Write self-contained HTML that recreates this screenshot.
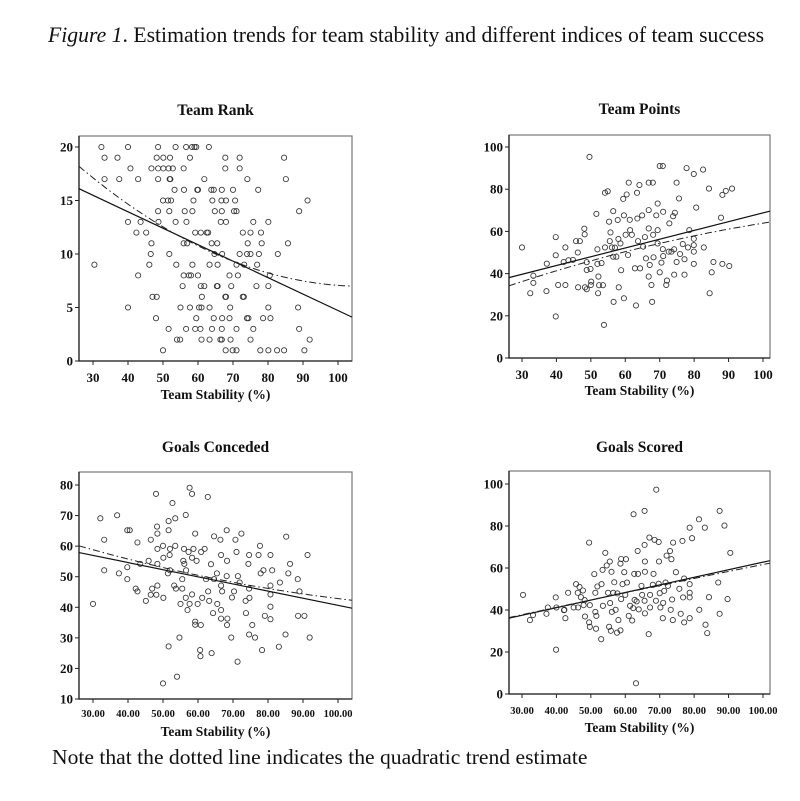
<!DOCTYPE html>
<html><head><meta charset="utf-8"><style>
body{margin:0;background:#fff;}
svg{display:block;font-family:"Liberation Serif",serif;}
</style></head><body>
<svg id="fig" width="800" height="801" viewBox="0 0 800 801">
<text x="48" y="42" font-size="21.7" fill="#111"><tspan font-style="italic">Figure 1</tspan>. Estimation trends for team stability and different indices of team success</text>
<text x="52" y="764" font-size="21.6" fill="#111">Note that the dotted line indicates the quadratic trend estimate</text>
</svg>
<script>
// ---- data ----
const rankX=[32.4,40,48.6,53.6,56.6,58.3,59,59.5,63.1, 33.3,37,48.2,50.1,52,57.7,67.8,71.9,84.6, 40.7,46.7,48.6,50.1,51.6,52.8,55.9,67.8,71.9, 33.3,37.5,42.9,48.6,51.9,52.1,61.8,74.1,85.1, 53.3,56,59.8,60,63.8,64.5,66.8,70,77.2, 50,51.4,52.3,58.7,64.1,66.7,68,70.6,91.3, 48.6,51.8,56.2,58.4,64.8,66.8,70.3,71,88.9, 40,43.6,48.7,53.6,56.7,66.5,68,75.8,80.1, 42.4,45.2,59.2,60.8,62.5,62.9,72.8,75,78, 46.7,55.9,56.9,63.9,65.5,74.2,78.2,85.7, 46.5,51.8,64.7,66.9,71.9,74,75,77.4,82.8, 30.4,46.1,53.8,58.4,63.3,65.6,71,73.2,76.9, 42.9,55.9,57.4,58,60,69,71.4,80.5, 55.6,60.8,61.8,65.4,65.6,69.5,76.7,80.1, 47,48.2,61.1,67.8,68,72.8,73.1, 40,55,57.7,60.3,61,63.3,69.2,80.1,88.6, 48,59.5,64.5,66.9,69,74,74.4,78.6,80.7, 51.6,56.6,59.2,60.7,64,66.8,71,75.8,88.9, 54,54.9,61,63.3,66.4,66.8,69.3,75,91.9, 50,67.9,69.9,71,77.8,80.1,82.6,84.6,90.4];
const rankY=[20,20,20,20,20,20,20,20,20, 19,19,19,19,19,19,19,19,19, 18,18,18,18,18,18,18,18,18, 17,17,17,17,17,17,17,17,17, 16,16,16,16,16,16,16,16,16, 15,15,15,15,15,15,15,15,15, 14,14,14,14,14,14,14,14,14, 13,13,13,13,13,13,13,13,13, 12,12,12,12,12,12,12,12,12, 11,11,11,11,11,11,11,11, 10,10,10,10,10,10,10,10,10, 9,9,9,9,9,9,9,9,9, 8,8,8,8,8,8,8,8, 7,7,7,7,7,7,7,7, 6,6,6,6,6,6,6, 5,5,5,5,5,5,5,5,5, 4,4,4,4,4,4,4,4,4, 3,3,3,3,3,3,3,3,3, 2,2,2,2,2,2,2,2,2, 1,1,1,1,1,1,1,1,1];
const pointsX=[49.6,30,32.4,33.3,33.3,37.2,37.1,39.8,39.8,39.8,40.5,42.6,42.6,42.1,43.5,44.8,45.7,46.2,46.8,46.3,48.1,48.2,48.3,48.8,48.8,48.8,49.9,50.1,50,51.6,51.9,51.9,52.2,52.1,52.4,53.1,53.5,53.8,54.1,54.9,54.1,55.3,55.5,55.7,56.1,56.5,56.6,56.5,57,57.4,57.8,58,58.1,58.6,58.8,59.4,59.6,59.6,60.1,60.4,60.8,61,61.3,61.4,61.9,62.8,63.1,63.4,63.5,64.1,63.7,64.9,64.3,65.2,65.7,66,66.8,66.8,66.8,66.8,67.1,67.6,67.8,68,68.1,68.2,69,69.4,69.4,69.4,70,70.9,70.5,70,70.9,71,71,71.9,72.1,72.6,72.8,73.4,73.9,74.2,74.2,74.4,74.9,74.9,75.6,75.9,76.7,77.2,77.2,77.8,78.2,78.6,79.9,79.9,79.9,79.9,79.9,80.6,82.6,82.8,84.3,84.5,85.1,85.6,87.8,88.2,88.2,89.2,90.2,91];
const pointsY=[95.3,52.4,30.7,35.6,39,44.7,31.7,48.7,57.3,19.7,34.6,52.4,34.6,45.5,46.3,46.5,55.4,50,55.4,33.5,61.3,58.6,33.5,45.4,41.7,32.6,42.2,36.2,34.6,68.3,51.5,44.6,38.6,30.7,34.5,45,34.5,15.7,78.3,79,52.4,64.6,55.4,59.5,52.4,69.6,26.6,48,52.3,48,65.4,56.4,33.5,54.3,41.6,75.4,67.6,28.3,58.4,77.5,48.8,83.1,65.5,60.6,58.4,42.5,24.9,78.3,66.1,82,55.4,67.6,42.5,52.8,57.3,47.2,83.1,70.1,61.4,38.6,44.1,34.6,26.6,83.1,58.4,47.7,67.6,73.2,60.6,54.3,91,91,45.2,40.6,51.6,48.3,69.3,34.6,36.7,50.4,63.8,50.4,67.2,51.5,39.5,68.8,83.1,45.5,75.6,49.3,54,39.5,46.8,90,52.4,60.6,87.2,56.5,53.5,50.4,44.6,71.3,89.3,52.4,80.3,30.7,40.6,45.5,66.5,77.3,44.6,79.2,43.6,80.3];
const concX=[30,32.1,33.2,33.2,36.9,37.4,39.8,39.8,39.8,40.5,42.2,42.7,42.7,43.5,45.1,45.9,46.5,46.5,46.9,48,48.3,48.4,48.4,48.4,48.4,48.1,50,50.1,50.1,50,51.4,51.6,51.6,51.6,51.9,52,52,52.7,53.2,53.5,53.5,53.7,54,54.7,55,55.5,55.5,55.8,56,56.1,56.5,56.5,56.6,57,57.3,57.6,57.6,58.3,58.3,58.3,58.7,59.2,59.2,59.2,59.6,59.9,60.6,60.7,60.8,60.9,61.2,61.9,62.8,62.3,62.9,63.2,63.7,63.9,64.3,64.6,64.6,65.4,65.5,66.4,66.6,66.6,66.6,66.6,66.9,68.2,68.2,68.3,68.4,68.3,69.5,69.7,70.3,70.7,71,71.3,71.4,71.9,72.4,73.6,73.7,74.4,74.6,74.6,74.7,74.6,75.5,76.3,77.3,77.7,77.9,78.3,78.7,79.1,80.7,80.7,80.7,80.7,80.7,81.2,83.1,83.4,85,85.2,85.8,86.3,88.5,88.6,89,90.4,91.3,91.9];
const concY=[41.1,69.1,62.1,52.1,70.1,51.1,53.1,49.2,65.2,65.2,46.1,61.2,45.2,54.2,42.1,55.2,62.1,44.1,46.1,77.1,66.4,64.1,59.1,54.2,47.1,44.1,60.1,56.2,43.1,15.1,51.1,68.2,65.2,27.2,57.1,59.1,52.1,74.1,47.1,69.1,60.1,46.1,17.3,30.1,41.1,49.2,46.1,55.2,59.1,54.2,70.2,43.1,52.1,39.1,58.1,79.1,41.1,77.1,44.2,56.2,59.1,64.1,35.3,34.3,55.2,41.1,26,24,34.2,58.1,43.1,59.1,76.1,49.2,45.2,42.1,54.1,25,38.1,63.2,49.2,51.1,41.1,62.1,57.1,47.1,39.1,36.3,45.2,65.2,50.2,55.2,36.3,34.2,30.1,43.2,45.2,62.1,58.1,22.2,50.2,48.1,64.1,42.1,38.1,54.2,57.1,46.1,43.1,31.1,34.2,30.1,57.1,60.1,51.1,26,52.1,37.2,57.1,47.1,44.2,40.2,36.1,52.1,27.1,48.1,31.1,63.1,51.1,54.2,49.2,37.2,45.2,37.2,57.1,30.1];
const scoredX=[30.3,32.3,33.2,37.1,37.5,39.8,39.9,40,42.3,42.6,43.4,42.2,45,45.7,46.3,46.2,46.7,47.1,47.7,47.9,48.3,48.2,49.5,49.5,49.7,49.7,51,51.3,51.3,51.5,51.6,51.9,53,53.1,53.4,53.5,54.2,54.6,55,55.3,55.5,55.6,55.8,56,56.1,56.5,56.8,57.2,57.6,57.7,58,58.6,58.8,58.6,58.8,59.2,59.7,60,60.2,60.5,61,61.4,62,62.3,62.4,62.7,62.6,63.3,63.6,63.1,63.7,63.9,64.7,64.9,65.6,65.6,65.7,65.7,65.7,65.6,66.8,67,67.2,67.2,68,68.2,68.5,68.9,69,69.7,69.7,69.8,70,70.2,70.9,71,71.3,71.7,72,72.4,73,73.2,73.4,73.6,73.8,73.9,74.7,75.7,76.1,76.6,76.8,77.1,77.1,78.7,78.7,78.7,78.7,78.7,79.4,81.4,81.5,83.1,83.3,83.8,84.3,87,87.4,87.4,88.8,89.7,90.5];
const scoredY=[47.2,35.2,37.6,38.2,41.2,46,21.1,41.2,40.1,36.1,48.2,39.9,41.2,52.3,41.2,48.2,51,46.1,49.3,42.3,36.9,44.7,72.1,34.1,32,42.3,57.1,48.2,39.1,31.1,37.2,51.2,26.1,52.3,59.1,42,67.2,61.2,48.2,32,63.1,43.3,30.1,58.2,39.1,48.2,53.2,40.1,29.2,47.9,35.2,62.1,64.3,30.3,45.2,52.3,58,47.2,64.2,53.1,37.2,42,35,40.9,85.6,44.8,57.2,44.1,68.1,5.1,57.2,40.3,51.5,47.2,87.2,71,63.1,58.2,38.4,44.4,28.5,74.5,47.2,41.2,52,57.2,73.4,44.4,97.3,72.4,52.5,63.1,48,41.2,36.1,43.4,49.1,53.1,65.9,51.5,68.1,40.1,64.2,45,35.2,72.1,58,50.1,38.2,72.9,46,34.1,55,79.2,52.3,48.2,46,36.1,74.2,83.2,40.1,79.2,33,29,46.1,53.1,87.2,38.2,80.2,45.2,67.2];
// trend lines: linear endpoints [x0,y0,x1,y1]; quadratic anchor points
const rankLin=[26,16.1,104,4.1], rankQuadX=[26,65,104], rankQuadY=[18.2,10,7];
const pointsLin=[26.2,38.1,102,69.6], pointsQuadX=[26.2,64,102], pointsQuadY=[34.2,52,64.4];
const concLin=[26,57.9,104,39.7], concQuadX=[26,65,104], concQuadY=[60.1,49.3,42.3];
const scoredLin=[26.2,36.1,102,63.5], scoredQuadX=[26.2,64,102], scoredQuadY=[36.4,49.6,62.3];
const rankTicks=[0,5,10,15,20], pointsTicks=[0,20,40,60,80,100], concTicks=[10,20,30,40,50,60,70,80], scoredTicks=[0,20,40,60,80,100];
const xTicks=[30,40,50,60,70,80,90,100];
const xTickLabelsTop=['30','40','50','60','70','80','90','100'];
const xTickLabelsBottom=['30.00','40.00','50.00','60.00','70.00','80.00','90.00','100.00'];

const NS='http://www.w3.org/2000/svg';
const svg=document.getElementById('fig');
function el(tag,attrs,parent){const e=document.createElementNS(NS,tag);for(const k in attrs)e.setAttribute(k,attrs[k]);(parent||svg).appendChild(e);return e;}

function panel(o){
  const g=el('g',{});
  
  
  const sx=v=>o.px30+(v-30)*(o.px100-o.px30)/70;
  const sy=v=>o.pyLo+(v-o.yLo)*(o.pyHi-o.pyLo)/(o.yHi-o.yLo);
  const t=el('text',{x:(o.L+o.R)/2,y:o.titleY,'text-anchor':'middle','font-size':15.5,'font-weight':'bold',fill:'#111'},g);
  t.textContent=o.title;
  
  
  const box=el('rect',{x:o.L,y:o.T,width:o.R-o.L,height:o.B-o.T,fill:'none',stroke:'#777','stroke-width':1.2},g);
  
  
  const ax=el('path',{d:`M${o.L},${o.T} L${o.L},${o.B} L${o.R},${o.B}`,fill:'none',stroke:'#222','stroke-width':1.3},g);
  
  
  o.yTicks.forEach(v=>{
    const y=sy(v);
    el('line',{x1:o.L-4,x2:o.L,y1:y,y2:y,stroke:'#222','stroke-width':1},g);
    const tl=el('text',{x:o.L-6,y:y+4.5,'text-anchor':'end','font-size':13,'font-weight':'bold',fill:'#111'},g);
    tl.textContent=String(v);
    
    
  });
  xTicks.forEach((v,i)=>{
    const x=sx(v);
    el('line',{x1:x,x2:x,y1:o.B,y2:o.B+4,stroke:'#222','stroke-width':1},g);
    const tl=el('text',{x:x,y:o.xLabY,'text-anchor':'middle','font-size':o.xFs,'font-weight':'bold',fill:'#111'},g);
    tl.textContent=o.xLabels[i];
    
    
  });
  const xt=el('text',{x:(o.L+o.R)/2,y:o.xTitleY,'text-anchor':'middle','font-size':13.5,'font-weight':'bold',fill:'#111'},g);
  xt.textContent='Team Stability (%)';
  
  
  o.xs.forEach((xv,i)=>{
    const c=el('circle',{cx:sx(xv),cy:sy(o.ys[i]),r:2.6,fill:'none',stroke:'#333','stroke-width':0.85},g);
    
    
  });
  const ln=el('line',{x1:sx(o.lin[0]),y1:sy(o.lin[1]),x2:sx(o.lin[2]),y2:sy(o.lin[3]),stroke:'#111','stroke-width':1.2},g);
  
  
  const qx=o.qx,qy=o.qy;
  const q=x=>qy[0]*(x-qx[1])*(x-qx[2])/((qx[0]-qx[1])*(qx[0]-qx[2]))+qy[1]*(x-qx[0])*(x-qx[2])/((qx[1]-qx[0])*(qx[1]-qx[2]))+qy[2]*(x-qx[0])*(x-qx[1])/((qx[2]-qx[0])*(qx[2]-qx[1]));
  let d='';
  for(let k=0;k<=60;k++){const x=qx[0]+(qx[2]-qx[0])*k/60;d+=(k?'L':'M')+sx(x).toFixed(1)+','+sy(q(x)).toFixed(1);}
  const qp=el('path',{d:d,fill:'none',stroke:'#222','stroke-width':1,'stroke-dasharray':'7,3,1.5,3'},g);
  
  
}
panel({name:'team-rank-panel',title:'Team Rank',titleY:115,L:79,R:352,T:136,B:361,px30:93,px100:338,yLo:0,yHi:20,pyLo:361,pyHi:147,yTicks:rankTicks,xLabels:xTickLabelsTop,xLabY:382,xFs:13,xTitleY:399,xs:rankX,ys:rankY,lin:rankLin,qx:rankQuadX,qy:rankQuadY});
panel({name:'team-points-panel',title:'Team Points',titleY:114,L:509,R:770,T:135,B:358,px30:522,px100:763,yLo:0,yHi:100,pyLo:358,pyHi:147,yTicks:pointsTicks,xLabels:xTickLabelsTop,xLabY:379,xFs:13,xTitleY:395,xs:pointsX,ys:pointsY,lin:pointsLin,qx:pointsQuadX,qy:pointsQuadY});
panel({name:'goals-conceded-panel',title:'Goals Conceded',titleY:452,L:79,R:352,T:472,B:699,px30:93,px100:338,yLo:10,yHi:80,pyLo:699,pyHi:485,yTicks:concTicks,xLabels:xTickLabelsBottom,xLabY:717,xFs:10.5,xTitleY:736,xs:concX,ys:concY,lin:concLin,qx:concQuadX,qy:concQuadY});
panel({name:'goals-scored-panel',title:'Goals Scored',titleY:452,L:509,R:770,T:471,B:694,px30:522,px100:763,yLo:0,yHi:100,pyLo:694,pyHi:484,yTicks:scoredTicks,xLabels:xTickLabelsBottom,xLabY:714,xFs:10.5,xTitleY:732,xs:scoredX,ys:scoredY,lin:scoredLin,qx:scoredQuadX,qy:scoredQuadY});
</script>
</body></html>
